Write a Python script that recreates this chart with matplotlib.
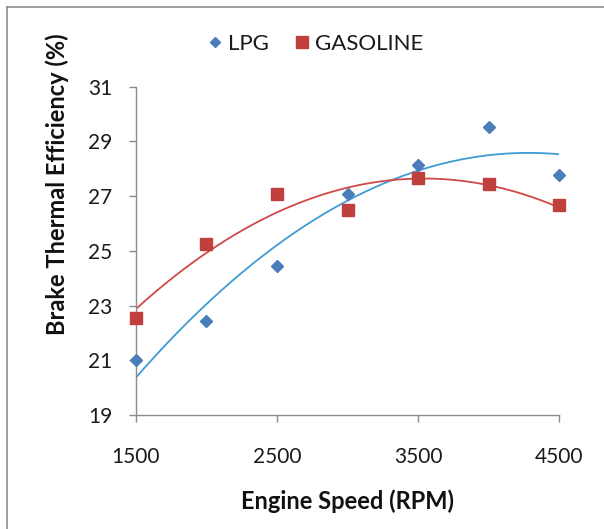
import numpy as np
import matplotlib
matplotlib.use("Agg")
import matplotlib.pyplot as plt
from matplotlib.lines import Line2D

plt.rcParams['font.family'] = ['Lato', 'DejaVu Sans']

rpm = [1500, 2000, 2500, 3000, 3500, 4000, 4500]
lpg = [21.0, 22.45, 24.46, 27.07, 28.15, 29.53, 27.76]
gasoline = [22.55, 25.25, 27.07, 26.49, 27.67, 27.45, 26.66]
xticks = [1500, 2500, 3500, 4500]
yticks = [19, 21, 23, 25, 27, 29, 31]

fig = plt.figure(figsize=(6.04, 5.29), dpi=100)
ax = fig.add_axes([0.2247, 0.2155, 0.7013, 0.6205])

xs = np.linspace(min(rpm), max(rpm), 200)
c_lpg = np.polyfit(rpm, lpg, 2)
c_gas = np.polyfit(rpm, gasoline, 2)
ax.plot(xs, np.polyval(c_lpg, xs), color='#3f9ad6', lw=1.3, zorder=2)
ax.plot(xs, np.polyval(c_gas, xs), color='#d04848', lw=1.3, zorder=2)

ax.plot(rpm, lpg, 'D', color='#4a7ebb', ms=6.5, ls='none', zorder=3, clip_on=False)
ax.plot(rpm, gasoline, 's', color='#c0403d', ms=9, ls='none', zorder=3, clip_on=False)

ax.set_xlim(1500, 4500)
ax.set_ylim(19, 31)
ax.set_xticks(xticks)
ax.set_yticks(yticks)
ax.tick_params(direction='out', length=5, width=1, color='#8c8c8c',
               labelsize=15, labelcolor='#1a1a1a')
ax.tick_params(axis='y', pad=12)
ax.tick_params(axis='x', pad=18)
for s in ['top', 'right']:
    ax.spines[s].set_visible(False)
for s in ['left', 'bottom']:
    ax.spines[s].set_color('#8c8c8c')
    ax.spines[s].set_linewidth(1)

ax.set_xlabel('Engine Speed (RPM)', fontsize=17, fontweight='bold', labelpad=16,
              color='#111111')
ax.set_ylabel('Brake Thermal Efficiency (%)', fontsize=17, fontweight='bold',
              color='#111111')
ax.yaxis.set_label_coords(-0.158, 0.704)

handles = [Line2D([], [], marker='D', color='#4a7ebb', ls='none', ms=5.5),
           Line2D([], [], marker='s', color='#c0403d', ls='none', ms=8)]
fig.legend(handles, ['LPG', 'GASOLINE'], loc='center', bbox_to_anchor=(0.52, 0.917),
           ncol=2, frameon=False, fontsize=16, handletextpad=0.15, columnspacing=1.0,
           handlelength=0.9, labelcolor='#1a1a1a')

# chart border (top and left)
fig.add_artist(Line2D([7/604, 1.0], [1 - 6.5/529, 1 - 6.5/529], color='#8c8c8c', lw=1.2,
                      transform=fig.transFigure))
fig.add_artist(Line2D([7/604, 7/604], [0.0, 1 - 6.5/529], color='#8c8c8c', lw=1.2,
                      transform=fig.transFigure))

fig.savefig('out.png', dpi=100)
